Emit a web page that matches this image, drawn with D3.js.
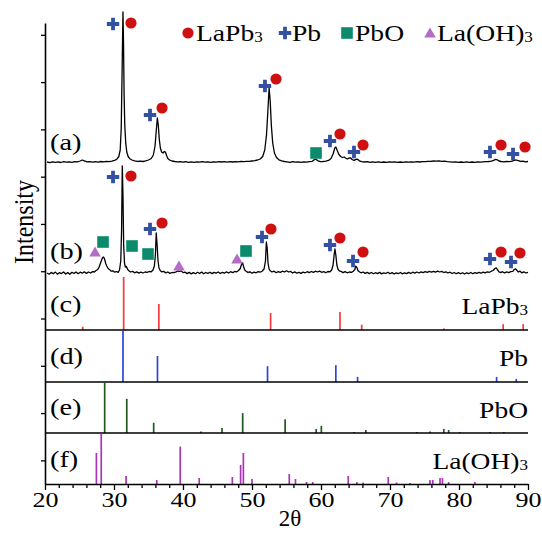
<!DOCTYPE html>
<html><head><meta charset="utf-8">
<script src="https://cdn.jsdelivr.net/npm/d3@7"></script>
<style>body{margin:0;background:#fff;} svg{display:block;} text{font-family:"Liberation Serif","Times New Roman",Times,serif;}</style>
</head><body>
<svg id="c" width="542" height="534"></svg>
<script>
// ---------------- DATA ----------------
const xTicksMajor = [20,30,40,50,60,70,80,90];
const xTicksMinor = [22,24,26,28,32,34,36,38,42,44,46,48,52,54,56,58,62,64,66,68,72,74,76,78,82,84,86,88];
const yTicks = [0.5,1.5,2.5,3.5,4.5,5.5,6.5,7.5,8.5,9.5];
const xLabel = "2θ";
const yLabel = "Intensity";
const panelLabels = ["(a)","(b)","(c)","(d)","(e)","(f)"];
const phaseNames = ["LaPb3","Pb","PbO","La(OH)3"];

// trace (a): [2θ, intensity a.u.]
const traceA = [[20.3,1.0],[20.7,0.4],[21.1,1.2],[21.5,0.6],[21.9,1.1],[22.3,0.5],[22.7,1.3],[23.1,0.8],[23.5,1.2],[23.9,0.7],[24.3,1.4],[24.7,1.2],[25.1,2.0],[25.4,3.0],[25.7,2.2],[26.1,1.1],[26.5,1.4],[26.9,0.8],[27.3,1.3],[27.7,0.9],[28.1,1.5],[28.5,1.1],[28.9,1.6],[29.3,1.3],[29.7,1.9],[30.1,2.6],[30.4,3.8],[30.7,6.5],[30.9,13],[31.05,35],[31.18,95],[31.3,151],[31.38,120],[31.46,70],[31.56,38],[31.7,20],[31.85,11],[32.05,6.5],[32.3,4.2],[32.6,3.0],[33.0,2.2],[33.4,1.6],[33.8,1.9],[34.2,1.5],[34.6,2.2],[35.0,3.0],[35.4,4.5],[35.7,8],[35.95,17],[36.12,32],[36.28,45],[36.42,38],[36.56,24],[36.72,15],[36.9,11],[37.1,10],[37.3,11.5],[37.45,11],[37.62,7.5],[37.8,4.5],[38.05,3.0],[38.4,2.0],[38.8,1.5],[39.2,1.1],[39.6,1.4],[40.0,0.8],[40.4,1.3],[40.8,0.7],[41.2,1.2],[41.6,0.6],[42.0,1.1],[42.4,0.8],[42.8,1.4],[43.2,0.9],[43.6,1.2],[44.0,0.7],[44.4,1.2],[44.8,0.9],[45.2,1.4],[45.6,1.0],[46.0,1.3],[46.4,0.8],[46.8,1.4],[47.2,1.0],[47.6,1.3],[48.0,1.1],[48.4,1.6],[48.8,1.3],[49.2,1.7],[49.6,1.6],[50.0,2.0],[50.4,2.3],[50.8,3.0],[51.2,4.0],[51.55,6.5],[51.85,13],[52.1,28],[52.3,52],[52.48,75],[52.64,62],[52.8,38],[53.0,20],[53.25,10],[53.55,5.5],[53.9,3.2],[54.3,2.2],[54.7,1.5],[55.1,1.2],[55.5,0.7],[55.9,1.3],[56.3,0.8],[56.7,1.2],[57.1,0.6],[57.5,1.2],[57.9,0.9],[58.3,1.4],[58.7,1.6],[59.0,3.2],[59.25,3.8],[59.5,2.4],[59.9,1.4],[60.3,1.5],[60.7,1.9],[61.1,2.6],[61.45,4.5],[61.75,9],[62.0,15],[62.15,16],[62.35,12.5],[62.6,8.5],[62.85,6.5],[63.1,5.5],[63.35,6],[63.55,5],[63.8,4],[64.05,4.8],[64.3,5.2],[64.5,3.5],[64.8,2.6],[65.05,3.6],[65.3,3.8],[65.55,2.2],[65.9,1.4],[66.3,1.0],[66.7,1.3],[67.1,0.6],[67.5,1.1],[67.9,0.7],[68.3,1.2],[68.7,0.6],[69.1,1.0],[69.5,0.7],[69.9,1.2],[70.3,0.8],[70.7,1.1],[71.1,0.6],[71.5,1.0],[71.9,0.7],[72.3,1.2],[72.7,0.8],[73.1,1.1],[73.5,0.9],[73.9,1.3],[74.3,1.0],[74.7,1.4],[75.1,1.3],[75.5,1.7],[75.9,1.6],[76.3,2.0],[76.7,1.8],[77.1,2.2],[77.5,1.7],[77.9,1.9],[78.3,1.3],[78.7,1.2],[79.1,0.8],[79.5,1.1],[79.9,0.6],[80.3,1.0],[80.7,0.7],[81.1,1.1],[81.5,0.6],[81.9,1.0],[82.3,0.7],[82.7,1.2],[83.1,0.9],[83.5,1.1],[83.9,1.3],[84.3,1.5],[84.7,1.9],[85.0,2.6],[85.3,3.6],[85.55,3.2],[85.8,2.0],[86.1,1.5],[86.5,1.2],[86.9,1.5],[87.3,1.3],[87.7,1.8],[88.0,2.6],[88.3,3.0],[88.6,2.4],[88.9,1.6],[89.3,1.8],[89.6,1.2],[90.0,1.5]];

// trace (b): [2θ, intensity a.u.]
const traceB = [[20.3,2.0],[20.6,0.8],[20.9,2.6],[21.2,1.2],[21.5,2.9],[21.8,0.9],[22.1,2.3],[22.4,1.4],[22.7,3.0],[23.0,1.0],[23.3,2.4],[23.6,0.7],[23.9,2.7],[24.2,1.5],[24.5,3.1],[24.8,1.3],[25.1,2.8],[25.4,1.8],[25.7,3.2],[26.0,1.6],[26.3,3.0],[26.6,2.0],[26.9,3.4],[27.15,3.0],[27.4,4.5],[27.65,5.5],[27.85,8],[28.05,12],[28.2,15],[28.35,17.5],[28.5,18],[28.65,15.5],[28.8,11.5],[28.95,9],[29.15,6.5],[29.35,5.5],[29.6,3.8],[29.85,4.2],[30.1,2.8],[30.35,3.5],[30.6,2.6],[30.8,5],[30.98,14],[31.1,45],[31.2,109],[31.3,80],[31.4,30],[31.52,12],[31.65,8],[31.8,8.5],[31.95,6],[32.15,4.2],[32.4,3.0],[32.7,3.6],[33.0,2.2],[33.3,3.1],[33.6,1.9],[33.9,2.8],[34.2,2.0],[34.5,3.0],[34.8,2.6],[35.1,3.5],[35.4,3.2],[35.65,5],[35.85,9],[36.0,20],[36.12,42],[36.25,30],[36.38,14],[36.52,7],[36.7,4.5],[36.9,3.2],[37.2,3.6],[37.5,2.1],[37.8,3.0],[38.1,1.6],[38.4,2.5],[38.7,2.3],[39.0,3.2],[39.25,4],[39.5,3.6],[39.75,4.1],[40.0,2.4],[40.3,2.9],[40.6,1.4],[40.9,2.6],[41.2,1.1],[41.5,2.4],[41.8,1.3],[42.1,2.7],[42.4,1.5],[42.7,2.9],[43.0,1.2],[43.3,2.5],[43.6,1.6],[43.9,2.8],[44.2,1.4],[44.5,2.6],[44.8,1.9],[45.1,3.0],[45.4,1.5],[45.7,2.7],[46.0,1.8],[46.3,3.1],[46.6,2.0],[46.9,3.3],[47.2,2.4],[47.5,3.5],[47.8,3.2],[48.05,4.5],[48.3,6.5],[48.5,11],[48.65,12],[48.8,8],[48.95,5],[49.15,3.8],[49.4,2.6],[49.7,3.2],[50.0,1.8],[50.3,2.9],[50.6,2.2],[50.9,3.4],[51.2,2.8],[51.5,4.0],[51.75,6],[51.95,14],[52.08,33],[52.2,27],[52.32,12],[52.48,6],[52.65,4.2],[52.9,3.0],[53.2,3.8],[53.5,2.3],[53.8,3.4],[54.1,2.6],[54.4,3.8],[54.7,3.0],[55.0,4.2],[55.3,3.0],[55.6,3.6],[55.9,2.0],[56.2,3.1],[56.5,1.8],[56.8,2.7],[57.1,1.6],[57.4,2.9],[57.7,2.2],[58.0,3.3],[58.3,2.4],[58.6,3.5],[58.9,2.6],[59.2,3.8],[59.5,3.0],[59.8,3.9],[60.1,2.7],[60.4,3.4],[60.7,2.2],[61.0,3.5],[61.3,3.2],[61.55,5],[61.75,10],[61.9,20],[62.02,26],[62.15,20],[62.3,10],[62.45,6],[62.65,4.2],[62.9,3.6],[63.2,2.4],[63.5,3.4],[63.8,2.2],[64.1,3.0],[64.4,2.6],[64.7,3.8],[64.9,5.5],[65.05,9],[65.2,7.5],[65.35,4.5],[65.55,3.2],[65.8,2.2],[66.1,3.0],[66.4,1.6],[66.7,2.6],[67.0,1.4],[67.3,2.5],[67.6,1.2],[67.9,2.3],[68.2,1.4],[68.5,2.6],[68.8,1.1],[69.1,2.2],[69.4,1.5],[69.7,2.7],[70.0,1.2],[70.3,2.4],[70.6,1.0],[70.9,2.1],[71.2,1.3],[71.5,2.5],[71.8,1.1],[72.1,2.2],[72.4,1.4],[72.7,2.6],[73.0,1.5],[73.3,2.8],[73.6,1.9],[73.9,3.0],[74.2,2.0],[74.5,3.1],[74.8,2.4],[75.1,3.3],[75.4,2.6],[75.7,3.6],[76.0,2.9],[76.3,3.7],[76.6,2.8],[76.9,3.8],[77.2,3.0],[77.5,3.6],[77.8,2.5],[78.1,3.2],[78.4,2.0],[78.7,2.8],[79.0,1.5],[79.3,2.5],[79.6,1.3],[79.9,2.4],[80.2,1.2],[80.5,2.3],[80.8,1.0],[81.1,2.2],[81.4,1.3],[81.7,2.5],[82.0,1.2],[82.3,2.4],[82.6,1.6],[82.9,2.7],[83.2,1.8],[83.5,2.9],[83.8,2.1],[84.1,3.2],[84.4,2.7],[84.7,3.8],[84.95,4.5],[85.2,6.5],[85.4,7.2],[85.6,5],[85.8,3.2],[86.05,2.4],[86.3,3.3],[86.6,2.0],[86.9,3.1],[87.2,2.4],[87.5,3.3],[87.8,3.6],[88.0,5.5],[88.2,6.2],[88.4,4.5],[88.6,3.0],[88.85,3.8],[89.1,2.2],[89.4,3.2],[89.7,2.0],[90.0,2.6]];

// reference sticks: [2θ, relative intensity %]
const sticksLaPb3 = [[25.46,6],[31.4,100],[36.5,49],[52.7,32],[62.75,34],[65.9,10],[77.8,3],[86.4,11],[89.3,11]];
const sticksPb = [[31.3,100],[36.3,51],[52.25,31],[62.15,33],[65.3,10],[85.45,10],[88.3,6]];
const sticksPbO = [[28.65,100],[31.85,67],[35.75,20],[42.6,3],[45.65,10],[48.65,39],[54.8,27],[59.3,8],[60.05,14],[64.8,2],[66.5,6],[73.9,2],[75.8,3],[77.8,8],[78.5,6],[80.1,2],[84.5,2],[86.5,2]];
const sticksLaOH3 = [[27.45,62],[28.15,100],[31.75,16],[36.2,8],[39.6,75],[42.35,12],[47.15,14],[48.35,38],[48.75,62],[50.0,10],[55.4,20],[56.3,10],[57.9,4],[58.8,4],[63.95,16],[65.2,4],[66.1,3],[69.75,14],[70.95,3],[72.9,2],[75.8,8],[76.2,8],[77.25,12],[77.6,12],[78.5,4],[82.3,4]];

// phase markers on traces: [2θ, intensity level]
const markA_LaPb3 = [[32.46,140],[36.96,55],[53.48,84],[62.75,29],[66.09,18],[86.09,18],[89.57,16]];
const markA_Pb = [[29.86,139],[35.22,48],[51.88,77],[61.3,22],[64.78,11],[84.49,11],[87.83,9]];
const markA_PbO = [[59.28,10]];
const markB_LaPb3 = [[32.46,99],[36.96,52],[52.75,46],[62.75,37],[66.09,23],[86.09,23],[88.84,22]];
const markB_Pb = [[29.86,98],[35.22,46],[51.45,38],[61.3,30],[64.64,14],[84.49,16],[87.54,13]];
const markB_PbO = [[28.41,33],[32.61,29],[34.93,21],[49.13,24]];
const markB_LaOH3 = [[27.25,23],[39.42,9],[47.83,16]];

// ---------------- DRAW ----------------
const svg = d3.select("#c");
const COL = {LaPb3:"#cf1010", Pb:"#3450a3", PbO:"#0b8b6c", LaOH3:"#b46cc6"};
const STICKCOL = ["#f03c3c","#2b47d8","#1f5a1f","#a835b5"];

const x = d3.scaleLinear().domain([20,90]).range([45,528]);
const yAxisScale = d3.scaleLinear().domain([0,9.75]).range([484,23]);
const yA = d3.scaleLinear().domain([0,151]).range([163,12]);
const yB = d3.scaleLinear().domain([0,109]).range([275,166]);

function txt(g, px, py, parts, size, anchor, sx){
  const t = g.append("text")
    .attr("transform", `translate(${px},${py}) scale(${sx},1)`)
    .attr("font-size", size)
    .attr("text-anchor", anchor||"start").attr("fill","#000");
  parts.forEach(p=>{
    const s = t.append("tspan").text(p.t);
    if(p.sub){ s.attr("font-size", size*0.62).attr("dy", 1); }
  });
  return t;
}
function splitName(n){
  const m = n.match(/^(.*?)(\d)$/);
  return m ? [{t:m[1]},{t:m[2],sub:true}] : [{t:n}];
}

// traces
const line = (ys)=> d3.line().x(d=>x(d[0])).y(d=>ys(d[1]));
svg.append("path").datum(traceA).attr("d", line(yA)).attr("fill","none").attr("stroke","#000").attr("stroke-width",1.3).attr("stroke-linejoin","round");
svg.append("path").datum(traceB).attr("d", line(yB)).attr("fill","none").attr("stroke","#000").attr("stroke-width",1.3).attr("stroke-linejoin","round");

// stick panels
const panels = [
  {data:sticksLaPb3, bottom:330, top:277},
  {data:sticksPb, bottom:382, top:331},
  {data:sticksPbO, bottom:433, top:382},
  {data:sticksLaOH3, bottom:484, top:434}
];
panels.forEach((p,i)=>{
  const ys = d3.scaleLinear().domain([0,100]).range([p.bottom, p.top]);
  svg.append("g").selectAll("line").data(p.data).join("line")
    .attr("x1",d=>x(d[0])).attr("x2",d=>x(d[0]))
    .attr("y1",ys(0)).attr("y2",d=>ys(d[1]))
    .attr("stroke",STICKCOL[i]).attr("stroke-width",1.7);
  if(i<3){
    svg.append("line").attr("x1",x(20)).attr("x2",x(90)).attr("y1",p.bottom).attr("y2",p.bottom)
      .attr("stroke","#000").attr("stroke-width",1.6);
  }
});

// axes
const gx = svg.append("g").attr("transform","translate(0,484)");
gx.call(d3.axisBottom(x).tickValues(xTicksMinor).tickSize(4).tickSizeOuter(0).tickFormat(""));
gx.select(".domain").remove();
const gx2 = svg.append("g").attr("transform","translate(0,484)");
gx2.call(d3.axisBottom(x).tickValues(xTicksMajor).tickSize(6).tickSizeOuter(0).tickFormat(d3.format("d")));
gx2.select(".domain").attr("stroke-width",1.6);
gx.selectAll("line").attr("stroke-width",1.3);
gx2.selectAll("line").attr("stroke-width",1.3);
gx2.selectAll("text").attr("font-size",21).attr("fill","#000")
   .attr("y",6).attr("dy","0.8em").attr("transform",`scale(1.24,1)`);

const gy = svg.append("g").attr("transform","translate(45,0)");
gy.call(d3.axisLeft(yAxisScale).tickValues(yTicks).tickSize(4).tickSizeOuter(0).tickFormat(""));
gy.select(".domain").attr("stroke-width",1.6);
gy.selectAll("line").attr("stroke-width",1.3);

// axis titles
txt(svg, 290, 526, [{t:xLabel}], 23, "middle", 1.0);
svg.append("text").attr("transform","translate(33,222) rotate(-90) scale(1.0,1.15)")
  .attr("font-size",24).attr("text-anchor","middle").text(yLabel);

// panel labels
const labY = [150,259,312,364,415,467];
panelLabels.forEach((l,i)=> txt(svg, 50, labY[i], [{t:l}], 24, "start", 1.18));
// phase names right
const nameY = [314,366,418,469];
phaseNames.forEach((n,i)=> txt(svg, 528, nameY[i], splitName(n), 23.5, "end", 1.17));

// markers
function drawMarkers(data, ys, kind){
  const g = svg.append("g");
  data.forEach(d=> drawSymbol(g, x(d[0]), ys(d[1]), kind));
}
function drawSymbol(g, cx, cy, kind){
  if(kind==="LaPb3") g.append("circle").attr("cx",cx).attr("cy",cy).attr("r",5.6).attr("fill",COL.LaPb3);
  else if(kind==="Pb") g.append("path").attr("d",`M${cx-6.2},${cy}H${cx+6.2}M${cx},${cy-6.2}V${cy+6.2}`).attr("stroke",COL.Pb).attr("stroke-width",3.8);
  else if(kind==="PbO") g.append("rect").attr("x",cx-5.8).attr("y",cy-5.8).attr("width",11.6).attr("height",11.6).attr("fill",COL.PbO);
  else g.append("path").attr("d",`M${cx},${cy-5.5}L${cx+5.8},${cy+4.5}L${cx-5.8},${cy+4.5}Z`).attr("fill",COL.LaOH3);
}
drawMarkers(markA_Pb, yA, "Pb");
drawMarkers(markA_LaPb3, yA, "LaPb3");
drawMarkers(markA_PbO, yA, "PbO");
drawMarkers(markB_Pb, yB, "Pb");
drawMarkers(markB_LaPb3, yB, "LaPb3");
drawMarkers(markB_PbO, yB, "PbO");
drawMarkers(markB_LaOH3, yB, "LaOH3");

// legend
const legend = [
  {kind:"LaPb3", sx:188, tx:196, name:phaseNames[0]},
  {kind:"Pb", sx:285, tx:292, name:phaseNames[1]},
  {kind:"PbO", sx:347, tx:355, name:phaseNames[2]},
  {kind:"LaOH3", sx:430, tx:437, name:phaseNames[3]}
];
const lg = svg.append("g");
legend.forEach(l=>{
  drawSymbol(lg, l.sx, 33, l.kind);
  txt(lg, l.tx, 41, splitName(l.name), 24, "start", 1.15);
});
</script>
</body></html>
